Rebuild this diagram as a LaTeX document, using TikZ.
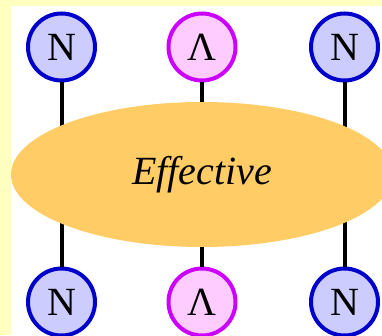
\documentclass[tikz,border=0pt]{standalone}
\usepackage{fontspec}
\setmainfont{Liberation Serif}
\usetikzlibrary{shapes.geometric}
\definecolor{paleyellow}{HTML}{FFFFC0}
\definecolor{nfill}{HTML}{CCCCFF}
\definecolor{nline}{HTML}{0000CC}
\definecolor{lfill}{HTML}{FFCCFF}
\definecolor{lline}{HTML}{CC00FF}
\definecolor{blob}{HTML}{FFCC66}
\begin{document}
\begin{tikzpicture}[x=1pt,y=1pt,
  particle/.style={circle,line width=4pt,minimum size=67pt,inner sep=0pt,font=\fontsize{40}{40}\selectfont},
  nucleon/.style={particle,draw=nline,fill=nfill},
  hyperon/.style={particle,draw=lline,fill=lfill},
  leg/.style={line width=4pt,black}]
  \useasboundingbox (0,0) rectangle (382,335);
  \clip (0,0) rectangle (382,335);
  % frame
  \fill[paleyellow] (0,0) rectangle (382,335);
  \fill[white] (11,0) rectangle (382,329);
  % particles
  \node[nucleon] (n1) at (61.5,288) {N};
  \node[hyperon] (l1) at (202,288) {Λ};
  \node[nucleon] (n2) at (344.5,288) {N};
  \node[nucleon] (n3) at (61.5,33) {N};
  \node[hyperon] (l2) at (202,33) {Λ};
  \node[nucleon] (n4) at (344.5,33) {N};
  % legs
  \draw[leg] (n1) -- (n3);
  \draw[leg] (l1) -- (l2);
  \draw[leg] (n2) -- (n4);
  % effective interaction
  \node[ellipse,fill=blob,minimum width=382pt,minimum height=145pt,inner sep=0pt,
        font=\fontsize{40}{40}\selectfont\itshape] (eff) at (202,160.5) {Effective};
\end{tikzpicture}
\end{document}
